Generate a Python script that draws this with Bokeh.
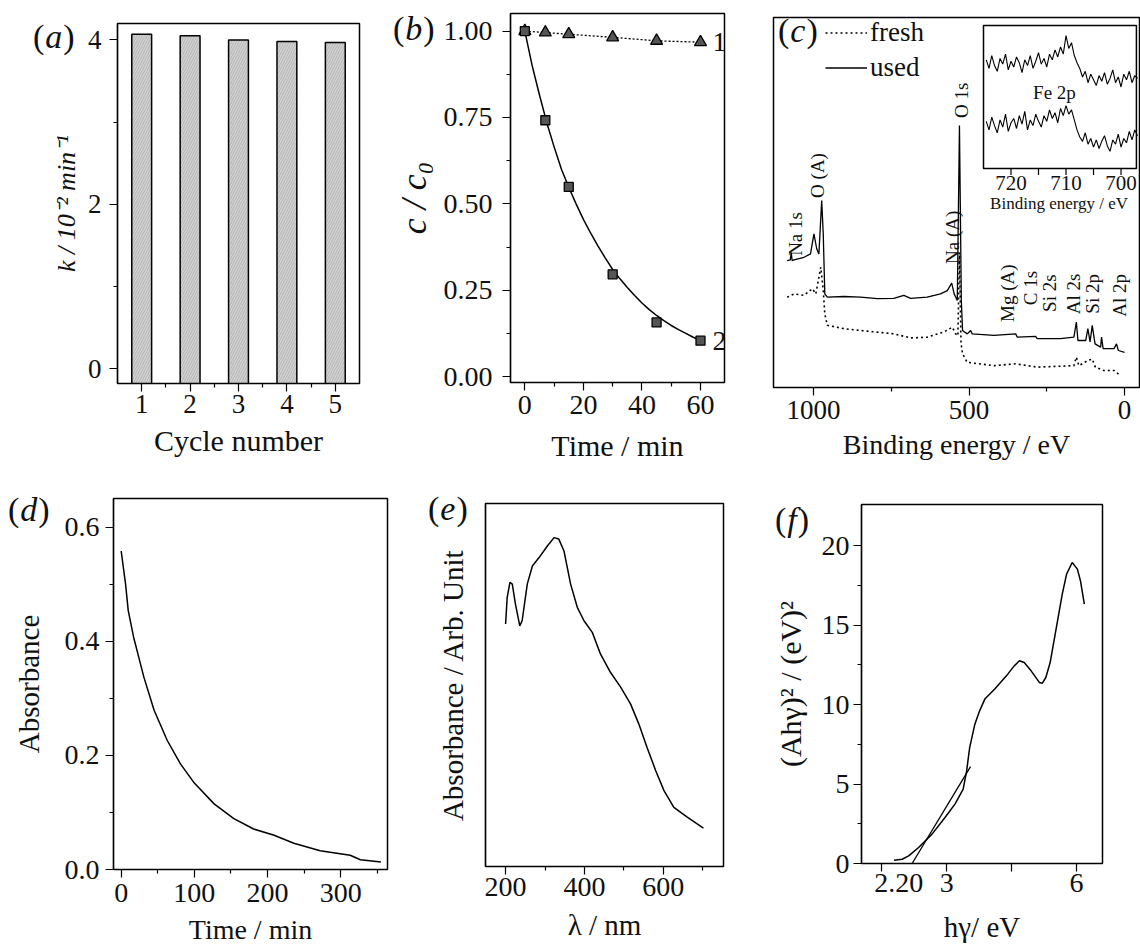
import numpy as np
from bokeh.plotting import figure
from bokeh.layouts import row
from bokeh.models import (Range1d, FixedTicker, Label, Legend, LegendItem,
                          PrintfTickFormatter, GridBox, Div)
from bokeh.embed import file_html
from bokeh.resources import INLINE
from bokeh.core.properties import value

FONT = "Liberation Serif"

# ---------------- data ----------------
# (a) rate constant per cycle
cycles = [1, 2, 3, 4, 5]
k_values = [4.07, 4.05, 4.00, 3.98, 3.97]

# (b) c/c0 vs time
time_b = [0, 7, 15, 30, 45, 60]
c_curve1 = [1.000, 0.996, 0.991, 0.982, 0.972, 0.968]
c_curve2 = [1.000, 0.742, 0.549, 0.296, 0.157, 0.104]
t_fit = [0, 2.5, 5, 7.5, 10, 12.5, 15, 17.5, 20, 22.5, 25, 27.5, 30, 32.5, 35,
         37.5, 40, 42.5, 45, 47.5, 50, 52.5, 55, 57.5, 60]
c_fit = [1.0, 0.90, 0.815, 0.735, 0.665, 0.60, 0.548, 0.50, 0.455, 0.415, 0.378,
         0.343, 0.31, 0.283, 0.258, 0.235, 0.213, 0.194, 0.177, 0.162, 0.148,
         0.136, 0.125, 0.114, 0.105]

# (c) XPS survey
be_used = [1085, 1075, 1072, 1069, 1063, 1031, 1010, 999, 990, 983, 974, 969, 964,
           956, 902, 849, 795, 742, 710, 688, 635, 592, 570, 556, 548, 538, 531, 525,
           521, 506, 495, 490, 420, 350, 345, 286, 281, 206, 163, 155, 150, 125, 118,
           111, 104, 95, 77, 74, 69, 34, 26, 20, 0]
int_used = [0.343, 0.345, 0.365, 0.343, 0.345, 0.352, 0.361, 0.415, 0.375, 0.361,
            0.505, 0.415, 0.253, 0.244, 0.246, 0.244, 0.240, 0.241, 0.249, 0.241,
            0.244, 0.253, 0.262, 0.282, 0.253, 0.235, 0.708, 0.235, 0.154, 0.145,
            0.154, 0.145, 0.141, 0.145, 0.136, 0.138, 0.132, 0.132, 0.136, 0.177,
            0.127, 0.127, 0.159, 0.123, 0.168, 0.118, 0.109, 0.136, 0.105, 0.105,
            0.118, 0.100, 0.095]
be_fresh = [1085, 1063, 1031, 1004, 993, 977, 969, 964, 956, 902, 849, 742, 688, 635,
            581, 554, 543, 536, 531, 526, 521, 506, 420, 350, 281, 163, 155, 147, 118,
            104, 94, 67, 34, 13]
int_fresh = [0.244, 0.253, 0.249, 0.267, 0.253, 0.325, 0.262, 0.199, 0.168, 0.159,
             0.154, 0.145, 0.134, 0.136, 0.150, 0.163, 0.145, 0.140, 0.365, 0.120,
             0.091, 0.068, 0.059, 0.064, 0.055, 0.059, 0.082, 0.059, 0.073, 0.077,
             0.055, 0.046, 0.046, 0.032]
peak_names = ["Na 1s", "O (A)", "Na (A)", "O 1s", "Mg (A)", "C 1s", "Si 2s",
              "Al 2s", "Si 2p", "Al 2p"]
peak_label_be = [1058, 988, 554, 525, 377, 302, 240, 165, 102, 15]
peak_label_y = [0.415, 0.573, 0.406, 0.776, 0.255, 0.269, 0.255, 0.253, 0.253, 0.249]

# (c) inset: Fe 2p region
fe_be = list(np.arange(724.5, 696.9, -0.5))
fe_upper = [0.76, 0.70, 0.79, 0.72, 0.68, 0.77, 0.73, 0.80, 0.69, 0.75,
            0.71, 0.78, 0.74, 0.67, 0.76, 0.72, 0.79, 0.70, 0.75, 0.81,
            0.73, 0.77, 0.71, 0.80, 0.76, 0.83, 0.78, 0.85, 0.80, 0.93,
            0.84, 0.88, 0.79, 0.74, 0.70, 0.64, 0.68, 0.60, 0.66, 0.62,
            0.58, 0.65, 0.61, 0.67, 0.59, 0.63, 0.69, 0.60, 0.64, 0.57,
            0.66, 0.62, 0.68, 0.60, 0.65, 0.63]
fe_lower = [0.33, 0.27, 0.36, 0.30, 0.25, 0.34, 0.29, 0.38, 0.26, 0.32,
            0.35, 0.28, 0.37, 0.31, 0.40, 0.27, 0.34, 0.30, 0.38, 0.33,
            0.29, 0.37, 0.33, 0.41, 0.35, 0.39, 0.32, 0.42, 0.37, 0.44,
            0.38, 0.41, 0.34, 0.27, 0.22, 0.19, 0.25, 0.17, 0.21, 0.15,
            0.20, 0.14, 0.19, 0.23, 0.16, 0.12, 0.20, 0.17, 0.24, 0.15,
            0.21, 0.18, 0.26, 0.20, 0.27, 0.23]
inset_ticks = [720, 715, 710, 705, 700]
inset_tick_labels = ["720", "710", "700"]
inset_label_ticks = [720, 710, 700]

# (d) absorbance vs time
t_d = [0, 3.5, 6, 9.6, 17, 24, 31, 45, 63, 81, 99, 127, 154, 181, 209, 236, 272,
       313, 327, 355]
a_d = [0.558, 0.524, 0.50, 0.454, 0.407, 0.372, 0.337, 0.279, 0.226, 0.185, 0.153,
       0.115, 0.089, 0.071, 0.060, 0.046, 0.033, 0.025, 0.017, 0.013]

# (e) UV-vis spectrum
wl = [200, 204, 211, 217, 225, 236, 242, 255, 268, 285, 306, 323, 335, 348, 365,
      382, 399, 420, 441, 466, 492, 517, 538, 559, 581, 602, 627, 661, 702]
absorb = [0.668, 0.741, 0.783, 0.778, 0.723, 0.663, 0.677, 0.778, 0.828, 0.851,
          0.883, 0.906, 0.902, 0.870, 0.778, 0.714, 0.677, 0.645, 0.585, 0.535,
          0.494, 0.448, 0.393, 0.328, 0.264, 0.209, 0.163, 0.136, 0.106]

# (f) Tauc plot
hv = [1.78, 1.97, 2.12, 2.35, 2.66, 2.96, 3.19, 3.38, 3.46, 3.53, 3.65, 3.76, 3.88,
      4.11, 4.41, 4.56, 4.68, 4.79, 4.95, 5.14, 5.21, 5.29, 5.39, 5.52, 5.67, 5.77,
      5.90, 6.02, 6.09, 6.18]
ahv2 = [0.21, 0.27, 0.48, 1.01, 1.85, 2.90, 3.74, 4.68, 5.83, 7.30, 8.77, 9.61,
        10.35, 10.98, 11.92, 12.44, 12.76, 12.65, 12.13, 11.40, 11.35, 11.71, 12.65,
        14.65, 16.96, 18.22, 18.95, 18.53, 17.80, 16.33]
tangent_x = [2.20, 3.55]
tangent_y = [0.0, 6.1]
band_gap_value = 1.89
band_gap_text = "2.20"

panel_names = ["a", "b", "c", "d", "e", "f"]


# ---------------- helpers ----------------
def make_fig(width, height, xr, yr, bl, br, bt, bb, **kw):
    p = figure(width=width, height=height, x_range=xr, y_range=yr,
               min_border_left=bl, min_border_right=br, min_border_top=bt,
               min_border_bottom=bb, output_backend="svg", toolbar_location=None, **kw)
    try:
        p.frame_align = False
    except Exception:
        pass
    p.outline_line_color = "black"
    p.outline_line_width = 1.5
    p.xgrid.visible = False
    p.ygrid.visible = False
    p.background_fill_color = "white"
    p.border_fill_color = "white"
    for ax in p.axis:
        ax.axis_line_color = "black"
        ax.axis_line_width = 1.2
        ax.major_tick_line_color = "black"
        ax.minor_tick_line_color = "black"
        ax.major_tick_line_width = 1.2
        ax.minor_tick_line_width = 1.2
        ax.major_tick_in = 0
        ax.major_tick_out = 8
        ax.minor_tick_in = 0
        ax.minor_tick_out = 4
        ax.major_label_text_font = FONT
        ax.major_label_text_font_size = "28px"
        ax.major_label_text_color = "#111111"
        ax.major_label_standoff = 1
        ax.axis_label_text_font = FONT
        ax.axis_label_text_font_size = "29px"
        ax.axis_label_text_font_style = "normal"
        ax.axis_label_text_color = "#111111"
    return p


def panel_div(letter, left, top):
    return Div(text="(<i>%s</i>)" % letter, width=70, height=40,
               margin=(top, 0, 0, left), align="start",
               styles={"font-family": FONT, "font-size": "34px", "color": "#111111",
                       "line-height": "34px", "white-space": "nowrap",
                       "letter-spacing": "1px"})


# ---------------- (a) ----------------
pa = make_fig(378, 470, Range1d(0.5, 5.5), Range1d(-0.18, 4.2), 117, 19, 23, 87)
pa.vbar(x=cycles, top=k_values, bottom=-0.18, width=0.41, fill_color="#d2d2d2",
        line_color="black", line_width=1.5, hatch_pattern="right_diagonal_line",
        hatch_color="#a0a0a0", hatch_scale=5, hatch_weight=0.6)
pa.xaxis.ticker = FixedTicker(ticks=[1, 2, 3, 4, 5], minor_ticks=[1.5, 2.5, 3.5, 4.5])
pa.yaxis.ticker = FixedTicker(ticks=[0, 2, 4], minor_ticks=[1, 3])
pa.xaxis.axis_label = "Cycle number"
pa.xaxis.major_label_standoff = 3
pa.xaxis.axis_label_standoff = 8
pa.xaxis.axis_label_text_font_size = "30px"
pa.xaxis.major_label_text_font_size = "27px"
pa.yaxis.major_label_text_font_size = "27px"
pa.yaxis.major_label_standoff = 8
pa.yaxis.axis_label = "k / 10⁻² min⁻¹"
pa.yaxis.axis_label_text_font_style = "italic"
pa.yaxis.axis_label_text_font_size = "26px"
pa.yaxis.axis_label_standoff = 4

# ---------------- (b) ----------------
pb = make_fig(387, 470, Range1d(-4.9, 68.2), Range1d(-0.017, 1.051), 132, 41, 13, 88)
pb.line(t_fit, c_fit, line_color="black", line_width=1.5)
pb.line(time_b, c_curve1, line_color="black", line_width=1.3, line_dash="2 2")
pb.scatter(time_b, c_curve1, marker="triangle", size=12, fill_color="#555555",
           line_color="black", line_width=1.3)
pb.scatter(time_b, c_curve2, marker="square", size=9, fill_color="#555555",
           line_color="black", line_width=1.3)
pb.xaxis.ticker = FixedTicker(ticks=[0, 20, 40, 60], minor_ticks=[10, 30, 50])
pb.yaxis.ticker = FixedTicker(ticks=[0, 0.25, 0.5, 0.75, 1.0],
                              minor_ticks=[0.125, 0.375, 0.625, 0.875])
pb.yaxis.formatter = PrintfTickFormatter(format="%.2f")
pb.yaxis.major_label_standoff = 10
pb.xaxis.major_label_standoff = 5
pb.xaxis.axis_label = "Time / min"
pb.xaxis.axis_label_text_font_size = "30px"
pb.xaxis.axis_label_standoff = 12
pb.yaxis.axis_label = "c / c₀"
pb.yaxis.axis_label_text_font_style = "italic"
pb.yaxis.axis_label_text_font_size = "36px"
pb.yaxis.axis_label_standoff = 7
pb.add_layout(Label(x=64.1, y=c_curve1[-1], text="1", text_font=FONT, text_font_size="28px",
                    text_baseline="middle", text_align="left", text_color="#111111"))
pb.add_layout(Label(x=64.1, y=c_curve2[-1], text="2", text_font=FONT, text_font_size="28px",
                    text_baseline="middle", text_align="left", text_color="#111111"))

# ---------------- (c) ----------------
pc = make_fig(375, 470, Range1d(1129, -48), Range1d(0, 1), 8, 1, 17, 83,
              y_axis_location=None)
pc.xaxis.ticker = FixedTicker(ticks=[0, 500, 1000], minor_ticks=[250, 750])
pc.xaxis.axis_label = "Binding energy / eV"
pc.xaxis.axis_label_text_font_size = "28px"
pc.xaxis.major_label_text_font_size = "27px"
pc.xaxis.major_label_standoff = 5
pc.xaxis.axis_label_standoff = 7
r_fresh = pc.line(be_fresh, int_fresh, line_color="black", line_width=1.6, line_dash="2 3")
r_used = pc.line(be_used, int_used, line_color="black", line_width=1.3)
pc.text(x=peak_label_be, y=peak_label_y, text=peak_names, angle=np.pi / 2,
        text_align="center", text_baseline="middle", text_font=value(FONT),
        text_font_size="19px", text_color="#111111")
legend = Legend(items=[LegendItem(label="fresh", renderers=[r_fresh]),
                       LegendItem(label="used", renderers=[r_used])],
                location=(52, 304), label_text_font=FONT, label_text_font_size="27px",
                label_text_color="#111111", glyph_width=42, glyph_height=31,
                label_height=31, label_standoff=3, spacing=4, padding=0, margin=0,
                border_line_color=None, background_fill_alpha=0)
pc.add_layout(legend)

# inset in (c), mapped through its own ranges
pc.extra_x_ranges = {"ix": Range1d(763.18, 696.64)}
pc.extra_y_ranges = {"iy": Range1d(-1.531, 1.056)}
pc.quad(left=725, right=697.2, bottom=0, top=1, x_range_name="ix", y_range_name="iy",
        fill_color="white", line_color="black", line_width=1.5)
pc.line(fe_be, fe_upper, x_range_name="ix", y_range_name="iy", line_color="black",
        line_width=1.1)
pc.line(fe_be, fe_lower, x_range_name="ix", y_range_name="iy", line_color="black",
        line_width=1.1)
pc.segment(x0=inset_ticks, y0=0, x1=inset_ticks, y1=-0.045, x_range_name="ix",
           y_range_name="iy", line_color="black", line_width=1.2)
pc.text(x=inset_label_ticks, y=-0.05, text=inset_tick_labels, x_range_name="ix",
        y_range_name="iy", text_align="center", text_baseline="top",
        text_font=value(FONT), text_font_size="21px", text_color="#111111")
pc.text(x=[723.8], y=[-0.245], text=["Binding energy / eV"], x_range_name="ix",
        y_range_name="iy", text_align="left", text_baseline="middle",
        text_font=value(FONT), text_font_size="17px", text_color="#111111")
pc.text(x=[712.1], y=[0.53], text=["Fe 2p"], x_range_name="ix", y_range_name="iy",
        text_align="center", text_baseline="middle", text_font=value(FONT),
        text_font_size="19px", text_color="#111111")

# ---------------- (d) ----------------
pd_ = make_fig(395, 477, Range1d(-10.5, 364), Range1d(0, 0.65), 113, 8, 28, 78)
pd_.line(t_d, a_d, line_color="black", line_width=1.5)
pd_.xaxis.ticker = FixedTicker(ticks=[0, 100, 200, 300], minor_ticks=[50, 150, 250, 350])
pd_.yaxis.ticker = FixedTicker(ticks=[0, 0.2, 0.4, 0.6], minor_ticks=[0.1, 0.3, 0.5])
pd_.yaxis.formatter = PrintfTickFormatter(format="%.1f")
pd_.yaxis.major_label_standoff = 6
pd_.xaxis.major_label_standoff = 6
pd_.xaxis.axis_label = "Time / min"
pd_.xaxis.axis_label_text_font_size = "28px"
pd_.xaxis.axis_label_standoff = 9
pd_.yaxis.axis_label = "Absorbance"
pd_.yaxis.axis_label_standoff = 17

# ---------------- (e) ----------------
pe = make_fig(375, 477, Range1d(149, 753), Range1d(0, 1), 90, 47, 33, 81)
pe.line(wl, absorb, line_color="black", line_width=1.5)
pe.xaxis.ticker = FixedTicker(ticks=[200, 400, 600], minor_ticks=[300, 500, 700])
pe.yaxis.ticker = FixedTicker(ticks=[])
pe.yaxis.major_tick_out = 0
pe.yaxis.major_label_standoff = 0
pe.yaxis.axis_label = "Absorbance / Arb. Unit"
pe.yaxis.axis_label_standoff = 17
pe.xaxis.major_label_standoff = 3
pe.xaxis.axis_label = "λ / nm"
pe.xaxis.axis_label_standoff = 10

# ---------------- (f) ----------------
pf = make_fig(370, 477, Range1d(1.03, 6.6), Range1d(0, 22.6), 89, 38, 34, 84)
pf.line(hv, ahv2, line_color="black", line_width=1.5)
pf.line(tangent_x, tangent_y, line_color="black", line_width=1.3)
pf.xaxis.ticker = FixedTicker(ticks=[band_gap_value, 3, 6], minor_ticks=[1.5, 3, 4.5, 6])
pf.xaxis.major_label_overrides = {band_gap_value: band_gap_text,
                                  str(band_gap_value): band_gap_text}
pf.xaxis.major_tick_line_color = None
pf.xaxis.minor_tick_out = 8
pf.yaxis.ticker = FixedTicker(ticks=[0, 5, 10, 15, 20], minor_ticks=[2.5, 7.5, 12.5, 17.5])
pf.yaxis.major_label_standoff = 4
pf.xaxis.major_label_standoff = 2
pf.xaxis.axis_label = "hγ/ eV"
pf.xaxis.axis_label_standoff = 16
pf.yaxis.axis_label = "(Ahγ)² / (eV)²"
pf.yaxis.axis_label_text_font_size = "30px"
pf.yaxis.axis_label_standoff = 12

# ---------------- layout with panel letters ----------------
row1 = row(pa, pb, pc)
row2 = row(pd_, pe, pf)
children = [(row1, 0, 0), (row2, 1, 0),
            (panel_div(panel_names[0], 33, 20), 0, 0),
            (panel_div(panel_names[1], 393, 12), 0, 0),
            (panel_div(panel_names[2], 778, 14), 0, 0),
            (panel_div(panel_names[3], 8, 23), 1, 0),
            (panel_div(panel_names[4], 428, 22), 1, 0),
            (panel_div(panel_names[5], 775, 33), 1, 0)]
layout = GridBox(children=children)
open("out.html", "w").write(file_html(layout, INLINE))
